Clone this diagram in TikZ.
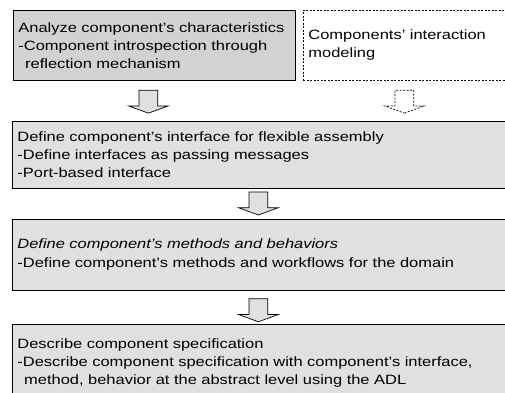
\documentclass[tikz,border=0pt]{standalone}
\usepackage{fontspec}
\setmainfont[FakeStretch=1.22]{Liberation Sans}
\usetikzlibrary{positioning, shapes.arrows}
\definecolor{boxgray}{HTML}{D2D2D2}
\definecolor{stepgray}{HTML}{E0E0E0}

\begin{document}
\begin{tikzpicture}[
    box/.style={draw=black, line width=0.8pt, fill=stepgray, font=\fontsize{13.5}{18}\selectfont, align=left, anchor=north west, inner xsep=5pt, inner ysep=2pt},
    blk/.style={draw=black, line width=0.7pt, fill=stepgray, single arrow, shape border rotate=270, inner sep=9pt, minimum height=23pt, single arrow head extend=10.5pt, single arrow tip angle=140, anchor=tail}]
  \useasboundingbox (0,0) rectangle (505pt,-392pt);
  % top row
  \node[box, fill=boxgray, minimum width=282pt, minimum height=70pt, text width=272pt] (analyze) at (13pt,-10pt)
    {Analyze component's characteristics\\-Component introspection through\\\hspace*{0.5em}reflection mechanism};
  \node[box, fill=white, dashed, dash pattern=on 2pt off 1.5pt, minimum width=202pt, minimum height=70pt, text width=192pt] (interact) at (303pt,-10pt)
    {Components' interaction\\modeling};
  % steps
  \node[box, below right=40pt and -1pt of analyze.south west, minimum width=498pt, minimum height=67pt, text width=488pt] (iface)
    {Define component's interface for flexible assembly\\-Define interfaces as passing messages\\-Port-based interface};
  \node[box, below=30pt of iface, minimum width=498pt, minimum height=71pt, text width=488pt] (method)
    {{\itshape Define component's methods and behaviors}\\-Define component's methods and workflows for the domain};
  \node[box, below=34pt of method, minimum width=498pt, minimum height=76pt, text width=488pt] (spec)
    {Describe component specification\\-Describe component specification with component's interface,\\\hspace*{0.5em}method, behavior at the abstract level using the ADL};
  % block arrows
  \node[blk] (a1) at ([xshift=-6pt, yshift=-9pt]analyze.south) {};
  \node[blk, fill=white, dashed, dash pattern=on 2pt off 1.5pt] (a2) at ([yshift=-9pt]interact.south) {};
  \node[blk] (a3) at ([xshift=-3pt, yshift=-3pt]iface.south) {};
  \node[blk] (a4) at ([xshift=-3pt, yshift=-8pt]method.south) {};
\end{tikzpicture}
\end{document}
